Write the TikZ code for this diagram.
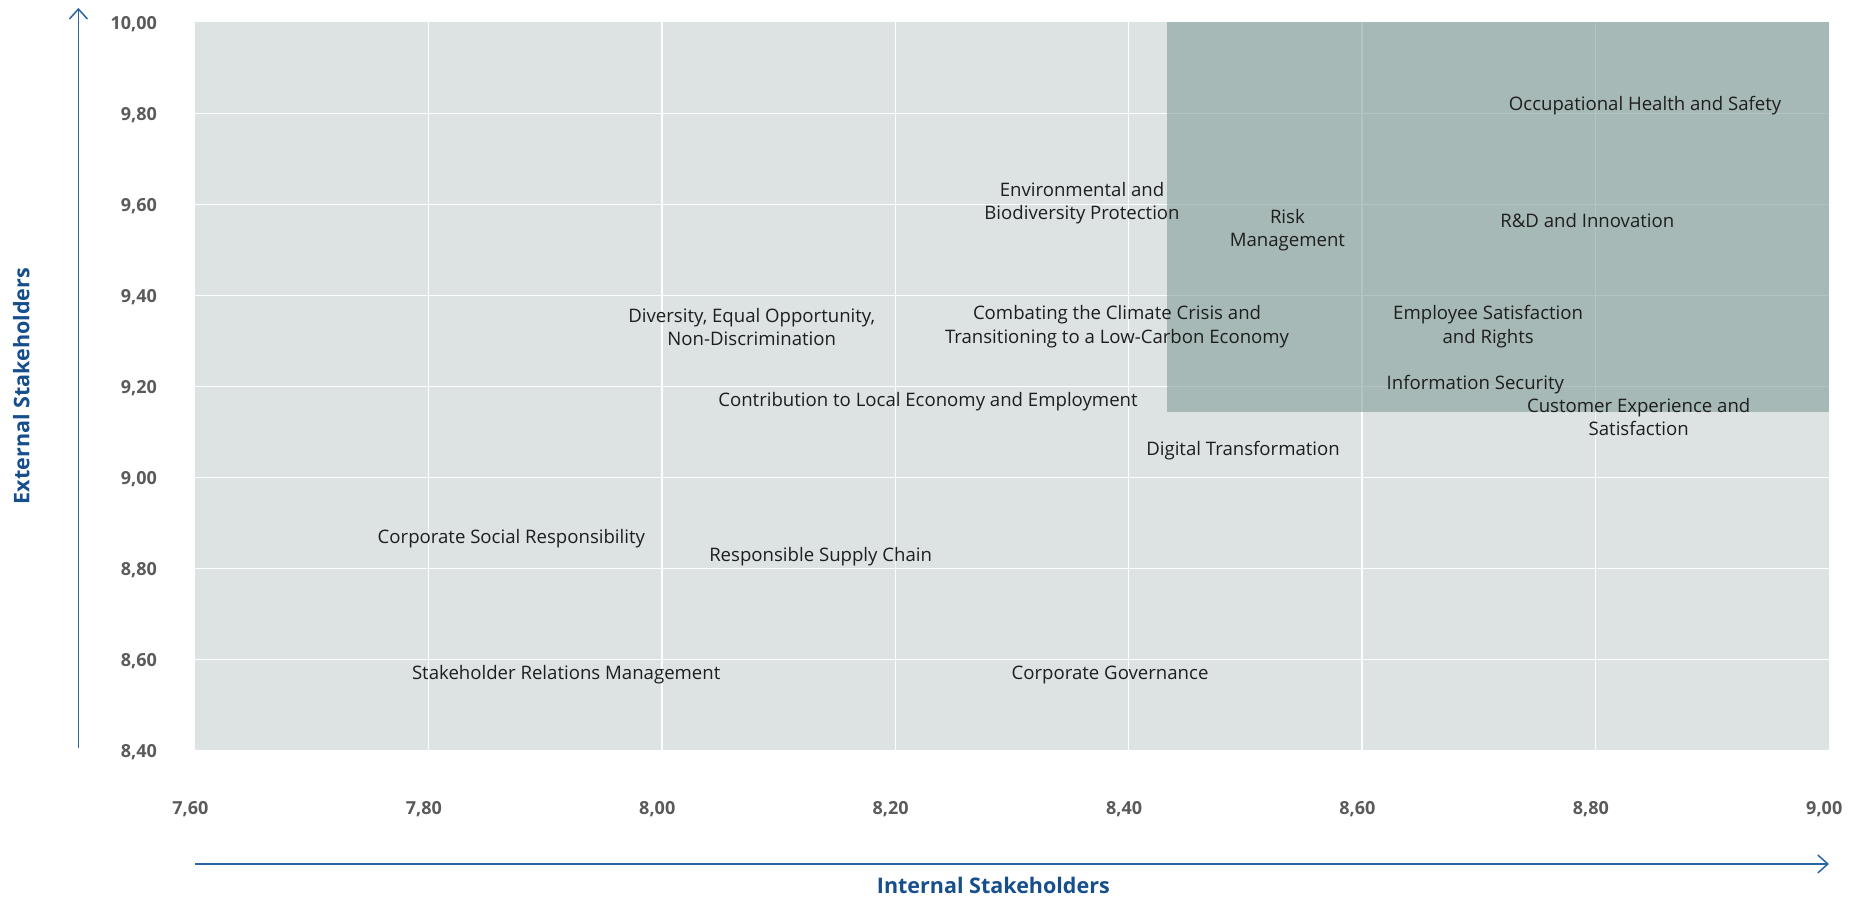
\documentclass[tikz,border=0pt]{standalone}
\usepackage{fontspec}
\setmainfont{Open Sans}
\usetikzlibrary{arrows.meta}
\definecolor{plotbg}{HTML}{DDE3E3}
\definecolor{focuszone}{HTML}{829E9A}
\definecolor{tickgrey}{HTML}{5A5A5A}
\definecolor{axisblue}{HTML}{2A64A4}
\definecolor{titleblue}{HTML}{174E8C}
\definecolor{labeltext}{HTML}{1E1E1E}
\begin{document}
\begin{tikzpicture}[x=1167pt, y=455pt,
    topic/.style={font=\fontsize{18.6}{23.5}\selectfont, text=labeltext, align=center, inner sep=0pt},
    ticklabel/.style={font=\bfseries\fontsize{18}{22}\selectfont, text=tickgrey, inner sep=0pt},
    axistitle/.style={font=\bfseries\fontsize{21.5}{25}\selectfont, text=titleblue, inner sep=0pt},
    axisline/.style={draw=axisblue, line width=1.5pt, -{Straight Barb[length=10pt, width=18pt]}},
    gridline/.style={draw=white, line width=1.5pt}]
    \useasboundingbox (7.4329,8.0758) rectangle (9.0276,10.0495);
    % plot area and grid
    \fill [plotbg] (7.6,8.4) rectangle (9.0,10.0);
    \foreach \gx in {7.8,8.0,8.2,8.4,8.6,8.8}
        \draw [gridline] (\gx,8.4) -- (\gx,10.0);
    \foreach \gy in {8.6,8.8,9.0,9.2,9.4,9.6,9.8}
        \draw [gridline] (7.6,\gy) -- (9.0,\gy);
    % high priority zone
    \fill [focuszone, fill opacity=0.6] (8.433,9.144) rectangle (9.0,10.0);
    % tick labels
    \foreach \gx/\txt in {7.6/{7,60}, 7.8/{7,80}, 8.0/{8,00}, 8.2/{8,20}, 8.4/{8,40}, 8.6/{8,60}, 8.8/{8,80}, 9.0/{9,00}}
        \node [ticklabel] (xt\gx) at (\gx-0.004,8.2714) {\txt};
    \foreach \gy/\txt in {8.4/{8,40}, 8.6/{8,60}, 8.8/{8,80}, 9.0/{9,00}, 9.2/{9,20}, 9.4/{9,40}, 9.6/{9,60}, 9.8/{9,80}, 10.0/{10,00}}
        \node [ticklabel, anchor=east] (yt\gy) at (7.5674,\gy-0.003) {\txt};
    % axes
    \coordinate (ybase) at (7.5,8.4055);
    \coordinate (ytip) at (7.5,10.032);
    \coordinate (xbase) at (7.6,8.1505);
    \coordinate (xtip) at (9.0,8.1505);
    \draw [axisline] (ybase) -- (ytip);
    \draw [axisline] (xbase) -- (xtip);
    \node [axistitle] (inttitle) at (8.284,8.103) {Internal Stakeholders};
    \node [axistitle, rotate=90] (exttitle) at (7.451,9.201) {External Stakeholders};
    % topics
    \node [topic] (ohs) at (8.8425,9.817) {Occupational Health and Safety};
    \node [topic] (envbio) at (8.360,9.603) {Environmental and\\Biodiversity Protection};
    \node [topic] (risk) at (8.536,9.544) {Risk\\Management};
    \node [topic] (rnd) at (8.793,9.564) {R\&D and Innovation};
    \node [topic] (diversity) at (8.077,9.331) {Diversity, Equal Opportunity,\\Non-Discrimination};
    \node [topic] (climate) at (8.390,9.331) {Combating the Climate Crisis and\\Transitioning to a Low-Carbon Economy};
    \node [topic] (employee) at (8.708,9.331) {Employee Satisfaction\\and Rights};
    \node [topic] (infosec) at (8.697,9.203) {Information Security};
    \node [topic] (localeco) at (8.228,9.166) {Contribution to Local Economy and Employment};
    \node [topic] (customer) at (8.837,9.133) {Customer Experience and\\Satisfaction};
    \node [topic] (digital) at (8.498,9.058) {Digital Transformation};
    \node [topic] (csr) at (7.871,8.865) {Corporate Social Responsibility};
    \node [topic] (supply) at (8.136,8.825) {Responsible Supply Chain};
    \node [topic] (stakerel) at (7.918,8.566) {Stakeholder Relations Management};
    \node [topic] (governance) at (8.384,8.566) {Corporate Governance};
\end{tikzpicture}
\end{document}
